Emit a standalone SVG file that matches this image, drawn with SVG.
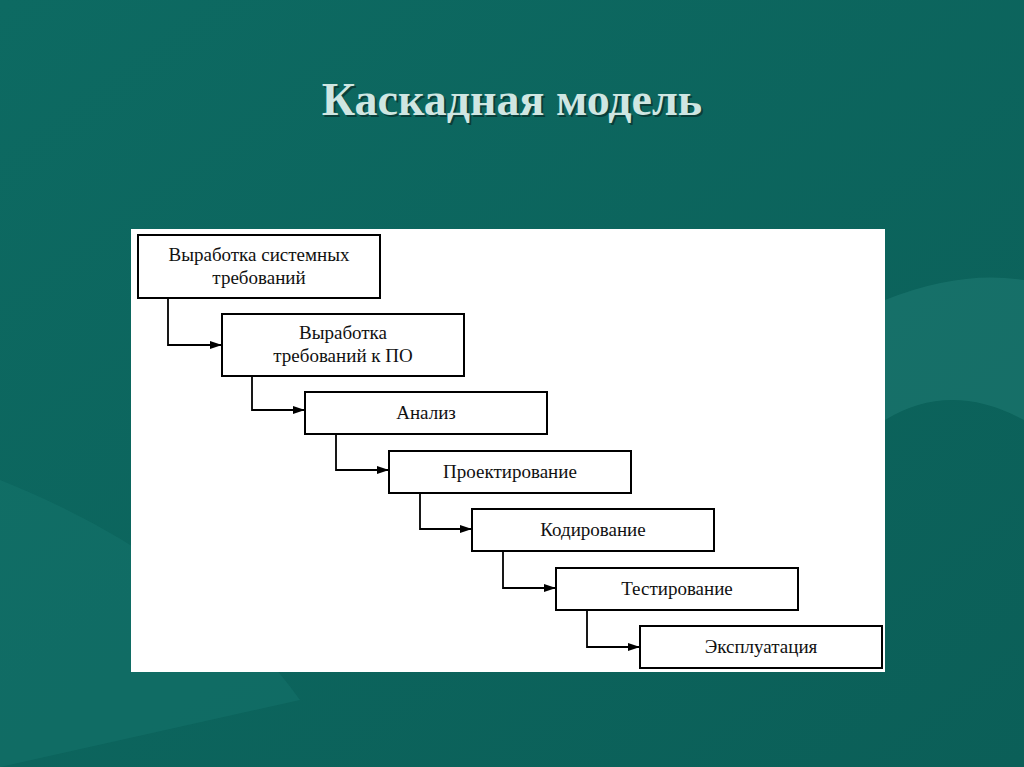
<svg xmlns="http://www.w3.org/2000/svg" width="1024" height="767" viewBox="0 0 1024 767">
<defs>
<style>
.b{fill:#fff;stroke:#000;stroke-width:2}
.t{font-family:"Liberation Serif",serif;font-size:19px;fill:#111;text-anchor:middle}
.c{fill:none;stroke:#000;stroke-width:1.8}
</style>
<marker id="a" markerWidth="12" markerHeight="10" refX="11" refY="5" orient="auto" markerUnits="userSpaceOnUse"><path d="M0,1 L12,5 L0,9 Z" fill="#000"/></marker>
<linearGradient id="bg" x1="0" y1="0" x2="1" y2="1"><stop offset="0" stop-color="#0d6a62"/><stop offset="1" stop-color="#0b5f58"/></linearGradient>
</defs>
<rect width="1024" height="767" fill="url(#bg)"/>
<path d="M0,480 Q200,560 300,700 L0,767 Z" fill="#1a7a72" opacity="0.35"/>
<path d="M885,300 Q960,270 1024,280 L1024,420 Q950,380 885,420 Z" fill="#2a8a80" opacity="0.35"/>
<text x="514" y="117" font-family="Liberation Serif,serif" font-size="46" font-weight="bold" fill="#0a2e2a" text-anchor="middle" opacity="0.7">Каскадная модель</text>
<text x="512" y="115" font-family="Liberation Serif,serif" font-size="46" font-weight="bold" fill="#cfe6e2" text-anchor="middle">Каскадная модель</text>
<rect x="131" y="229" width="754" height="443" fill="#fff"/>
<g id="connectors">
<path class="c" d="M168,298 V345 H221" marker-end="url(#a)"/>
<path class="c" d="M252,376 V410 H304" marker-end="url(#a)"/>
<path class="c" d="M336,434 V470 H388" marker-end="url(#a)"/>
<path class="c" d="M420,493 V529 H471" marker-end="url(#a)"/>
<path class="c" d="M503,551 V588 H555" marker-end="url(#a)"/>
<path class="c" d="M587,610 V647 H639" marker-end="url(#a)"/>
</g>
<g id="n1"><rect class="b" x="138" y="235" width="242" height="63"/><text class="t" x="259" y="261">Выработка системных</text><text class="t" x="259" y="284">требований</text></g>
<g id="n2"><rect class="b" x="222" y="314" width="242" height="62"/><text class="t" x="343" y="339">Выработка</text><text class="t" x="343" y="362">требований к ПО</text></g>
<g id="n3"><rect class="b" x="305" y="392" width="242" height="42"/><text class="t" x="426" y="419">Анализ</text></g>
<g id="n4"><rect class="b" x="389" y="451" width="242" height="42"/><text class="t" x="510" y="478">Проектирование</text></g>
<g id="n5"><rect class="b" x="472" y="509" width="242" height="42"/><text class="t" x="593" y="536">Кодирование</text></g>
<g id="n6"><rect class="b" x="556" y="568" width="242" height="42"/><text class="t" x="677" y="595">Тестирование</text></g>
<g id="n7"><rect class="b" x="640" y="626" width="242" height="42"/><text class="t" x="761" y="653">Эксплуатация</text></g>
</svg>
